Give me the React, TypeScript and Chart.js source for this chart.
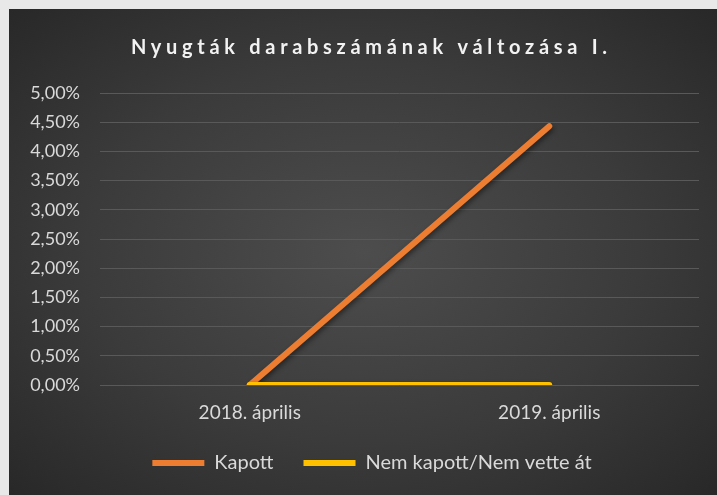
import React, { useEffect, useRef } from "react";
import { Chart, registerables } from "chart.js";

Chart.register(...registerables);

const categories = ["2018. április", "2019. április"];
const kapott = [0, 4.43];
const nemKapott = [0, 0];
const seriesNames = ["Kapott", "Nem kapott/Nem vette át"];
const titleText = "Nyugták darabszámának változása I.";

const FONT = "Lato, 'Open Sans', sans-serif";

const shadowPlugin = {
  id: "lineShadow",
  beforeDatasetDraw(chart: any) {
    const ctx = chart.ctx;
    ctx.save();
    ctx.shadowColor = "rgba(0,0,0,0.45)";
    ctx.shadowBlur = 5;
    ctx.shadowOffsetX = 1;
    ctx.shadowOffsetY = 3;
  },
  afterDatasetDraw(chart: any) {
    chart.ctx.restore();
  },
};

const legendShiftPlugin = {
  id: "legendShift",
  afterLayout(chart: any) {
    const lg = chart.legend;
    if (lg) {
      lg.left += 18;
      lg.right += 18;
    }
  },
};

const spacedTitlePlugin = {
  id: "spacedTitle",
  afterDraw(chart: any) {
    const box = chart.titleBlock;
    if (!box) return;
    const ctx = chart.ctx;
    ctx.save();
    const spacing = 4.7;
    ctx.font = `bold 20px ${FONT}`;
    (ctx as any).letterSpacing = `${spacing}px`;
    ctx.fillStyle = "#f2f2f2";
    ctx.textAlign = "center";
    ctx.textBaseline = "middle";
    const cx = chart.width / 2 + spacing / 2 + 6;
    const cy = box.top + 26 + 13;
    ctx.fillText(titleText, cx, cy);
    ctx.restore();
  },
};

export default function App() {
  const ref = useRef<HTMLCanvasElement | null>(null);

  useEffect(() => {
    document.documentElement.style.overflow = "hidden";
    document.body.style.margin = "0";
    document.body.style.background = "#e8e8e8";
    const canvas = ref.current;
    if (!canvas) return;
    const chart = new Chart(canvas, {
      type: "line",
      data: {
        labels: categories,
        datasets: [
          {
            label: seriesNames[0],
            data: kapott,
            borderColor: "#ED7D31",
            backgroundColor: "#ED7D31",
            borderWidth: 6,
            borderCapStyle: "round",
            pointRadius: 0,
            pointHoverRadius: 0,
            order: 1,
          },
          {
            label: seriesNames[1],
            data: nemKapott,
            borderColor: "#FFC000",
            backgroundColor: "#FFC000",
            borderWidth: 6,
            borderCapStyle: "round",
            pointRadius: 0,
            pointHoverRadius: 0,
            order: 0,
          },
        ],
      },
      options: {
        animation: false,
        responsive: false,
        maintainAspectRatio: false,
        layout: { padding: { left: 0, right: 18, top: 0, bottom: 12 } },
        plugins: {
          tooltip: { enabled: false },
          title: {
            display: true,
            text: titleText,
            color: "rgba(0,0,0,0)",
            font: { family: FONT, size: 20, weight: "bold" },
            padding: { top: 26, bottom: 34 },
          },
          legend: {
            position: "bottom",
            labels: {
              color: "#d9d9d9",
              font: { family: FONT, size: 20 },
              usePointStyle: true,
              pointStyle: "line",
              pointStyleWidth: 52,
              padding: 30,
              sort: (a: any, b: any) => a.datasetIndex - b.datasetIndex,
            },
          },
        },
        scales: {
          x: {
            offset: true,
            grid: { display: false, drawTicks: false },
            border: { display: false },
            ticks: { color: "#d9d9d9", font: { family: FONT, size: 19 }, padding: 16 },
            afterFit(scale: any) {
              scale.height = 38;
            },
          },
          y: {
            min: 0,
            max: 5,
            ticks: {
              stepSize: 0.5,
              color: "#d9d9d9",
              font: { family: FONT, size: 18 },
              padding: 20,
              callback: (v: any) => Number(v).toFixed(2).replace(".", ",") + "%",
            },
            grid: { color: "#595959", lineWidth: 1, drawTicks: false },
            border: { display: false },
            afterFit(scale: any) {
              scale.width = 91;
            },
          },
        },
      },
      plugins: [shadowPlugin, spacedTitlePlugin, legendShiftPlugin],
    } as any);
    return () => chart.destroy();
  }, []);

  return (
    <div
      style={{
        position: "absolute",
        left: 9,
        top: 9,
        width: 708,
        height: 486,
        background: "radial-gradient(ellipse at 50% 50%, #4d4d4d 0%, #3b3b3b 55%, #282828 100%)",
      }}
    >
      <canvas ref={ref} width={708} height={486} style={{ display: "block" }} />
    </div>
  );
}
